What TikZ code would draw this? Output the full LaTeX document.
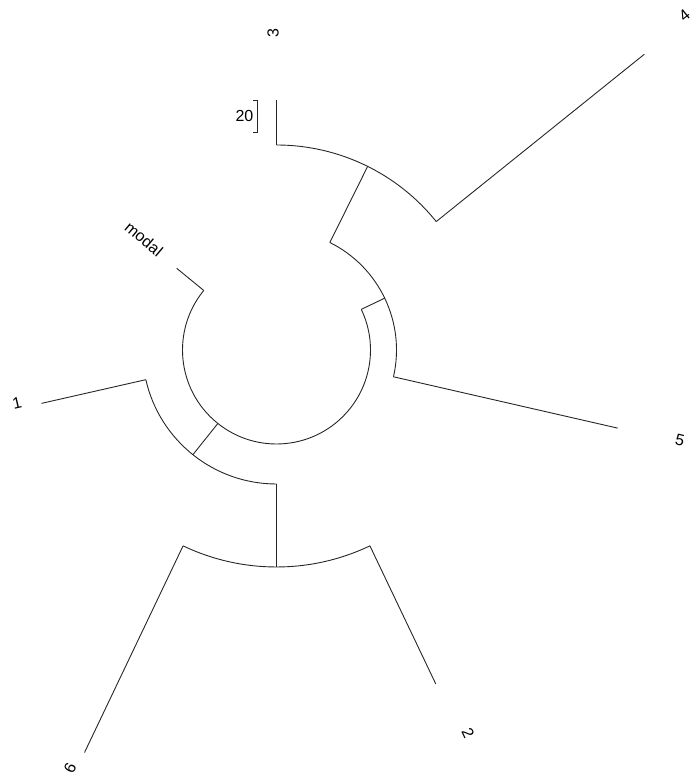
\documentclass[tikz,border=0pt]{standalone}
\usepackage{fontspec}
\setmainfont{Liberation Sans}

\begin{document}
\begin{tikzpicture}[
  x=1pt, y=1pt,
  branch/.style={line width=0.9pt, black!85, line join=miter},
  tiplabel/.style={font=\fontsize{16}{16}\selectfont, inner sep=0pt}
]
  \useasboundingbox (-276.5,-425) rectangle (416.5,350);

  % tree nodes (polar: angle:radius)
  \coordinate (modalbase) at (140.7:94);
  \coordinate (modaltip) at (140.7:129);
  \coordinate (leftin) at (231.4:94);
  \coordinate (leftout) at (231.4:134);
  \coordinate (rightin) at (25.6:94);
  \coordinate (rightout) at (25.6:120);
  \coordinate (onebase) at (192.8:134);
  \coordinate (onetip) at (192.8:241);
  \coordinate (lowin) at (270:134);
  \coordinate (lowout) at (270:217);
  \coordinate (sixbase) at (244.5:217);
  \coordinate (sixtip) at (244.5:446);
  \coordinate (twobase) at (295.5:217);
  \coordinate (twotip) at (295.5:370);
  \coordinate (fivebase) at (-12.9:120);
  \coordinate (fivetip) at (-12.9:350);
  \coordinate (upin) at (63.6:120);
  \coordinate (upout) at (63.6:205);
  \coordinate (threebase) at (90:205);
  \coordinate (threetip) at (90:250);
  \coordinate (fourbase) at (38.8:205);
  \coordinate (fourtip) at (38.8:472);

  % arcs
  \draw[branch] (modalbase) arc[start angle=140.7, end angle=385.6, radius=94pt];
  \draw[branch] (onebase) arc[start angle=192.8, end angle=270, radius=134pt];
  \draw[branch] (sixbase) arc[start angle=244.5, end angle=295.5, radius=217pt];
  \draw[branch] (fivebase) arc[start angle=-12.9, end angle=63.6, radius=120pt];
  \draw[branch] (fourbase) arc[start angle=38.8, end angle=90, radius=205pt];

  % radial branches
  \draw[branch] (modalbase) -- (modaltip);
  \draw[branch] (leftin) -- (leftout);
  \draw[branch] (rightin) -- (rightout);
  \draw[branch] (onebase) -- (onetip);
  \draw[branch] (lowin) -- (lowout);
  \draw[branch] (sixbase) -- (sixtip);
  \draw[branch] (twobase) -- (twotip);
  \draw[branch] (fivebase) -- (fivetip);
  \draw[branch] (upin) -- (upout);
  \draw[branch] (threebase) -- (threetip);
  \draw[branch] (fourbase) -- (fourtip);

  % tip labels
  \node[tiplabel, rotate=-40] (labmodal) at (-132.5,111) {modal};
  \node[tiplabel, rotate=13] (labone) at (-259.5,-53) {1};
  \node[tiplabel, rotate=64.5] (labsix) at (-206.5,-418) {6};
  \node[tiplabel, rotate=-64.5] (labtwo) at (191.5,-383) {2};
  \node[tiplabel, rotate=-12.9] (labfive) at (403.5,-90) {5};
  \node[tiplabel, rotate=90] (labthree) at (-3.5,317) {3};
  \node[tiplabel, rotate=38.8] (labfour) at (408,335) {4};

  % scale bar
  \coordinate (bartop) at (-19.5,250);
  \coordinate (barbot) at (-19.5,218);
  \draw[branch] ([xshift=-4pt]bartop) -- (bartop) -- (barbot) -- ([xshift=-4pt]barbot);
  \node[tiplabel, anchor=east] (barlabel) at (-23,234) {20};
\end{tikzpicture}
\end{document}
